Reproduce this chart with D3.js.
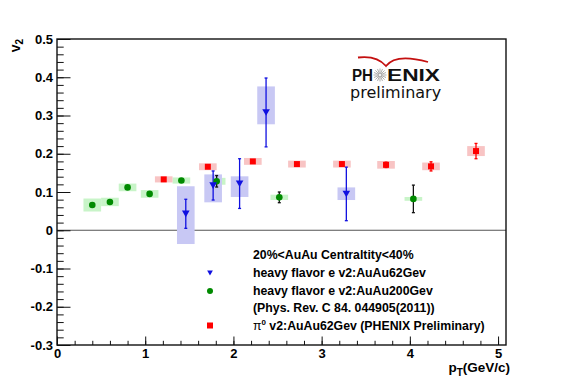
<!DOCTYPE html>
<html>
<head>
<meta charset="utf-8">
<script src="https://cdn.jsdelivr.net/npm/d3@7"></script>
<style>
  html, body { margin: 0; padding: 0; background: #fff; }
  svg { display: block; font-family: "Liberation Sans", Arial, Helvetica, sans-serif; }
</style>
</head>
<body>
<svg id="chart" width="567" height="383"></svg>
<script>
// ---------------- data ----------------
const xTicks = [0, 1, 2, 3, 4, 5];
const yTicks = [-0.3, -0.2, -0.1, 0, 0.1, 0.2, 0.3, 0.4, 0.5];
const yTickLabels = ["-0.3", "-0.2", "-0.1", "0", "0.1", "0.2", "0.3", "0.4", "0.5"];

// heavy flavor e v2 : AuAu 62 GeV (blue, triangles down)
const blueX = [1.46, 1.77, 2.07, 2.37, 3.28];
const blueY = [0.043, 0.117, 0.122, 0.308, 0.095];
const blueErr = [0.038, 0.038, 0.065, 0.090, 0.070];
const blueSysLo = [-0.036, 0.073, 0.087, 0.277, 0.079];
const blueSysHi = [0.115, 0.146, 0.141, 0.376, 0.112];

// heavy flavor e v2 : AuAu 200 GeV (green, circles)
const greenX = [0.40, 0.60, 0.80, 1.05, 1.41, 1.81, 2.52, 4.04];
const greenY = [0.066, 0.074, 0.112, 0.095, 0.130, 0.128, 0.086, 0.082];
const greenErr = [0.004, 0.004, 0.004, 0.004, 0.004, 0.015, 0.014, 0.036];
const greenSys = [0.017, 0.011, 0.010, 0.010, 0.008, 0.009, 0.007, 0.005];

// pi0 v2 : AuAu 62 GeV (red, squares)
const redX = [1.21, 1.71, 2.22, 2.72, 3.23, 3.73, 4.24, 4.75];
const redY = [0.133, 0.166, 0.180, 0.173, 0.173, 0.171, 0.167, 0.207];
const redErr = [0.003, 0.004, 0.004, 0.004, 0.005, 0.007, 0.012, 0.020];
const redSys = [0.008, 0.009, 0.009, 0.009, 0.009, 0.010, 0.010, 0.013];

const sysHalfWidth = 0.1;

const legendLines = [
  "20%<AuAu Centraltity<40%",
  "heavy flavor e v2:AuAu62Gev",
  "heavy flavor e v2:AuAu200Gev",
  "(Phys. Rev. C 84. 044905(2011))"
];

// ---------------- layout ----------------
const svg = d3.select("#chart");
svg.append("rect").attr("width", 567).attr("height", 383).attr("fill", "#fff");

const L = 57, R = 506, T = 39, B = 345;
const x = d3.scaleLinear().domain([0, 5.09]).range([L, R]);
const y = d3.scaleLinear().domain([-0.3, 0.5]).range([B, T]);

const colBlue = "#1010e0", colBlueBox = "#c8c8f4";
const colGreen = "#008a00", colGreenBox = "#c8f4c8";
const colRed = "#ff0000", colRedBox = "#f8c4c4";

// zero line
svg.append("line")
  .attr("x1", x(0)).attr("x2", R)
  .attr("y1", y(0)).attr("y2", y(0))
  .attr("stroke", "#555").attr("stroke-width", 1.2);

const plot = svg.append("g");

// systematic boxes
function boxes(xs, lo, hi, fill) {
  plot.append("g").selectAll("rect").data(xs).join("rect")
    .attr("x", d => x(d - sysHalfWidth))
    .attr("width", d => x(d + sysHalfWidth) - x(d - sysHalfWidth))
    .attr("y", (d, i) => y(hi[i]))
    .attr("height", (d, i) => y(lo[i]) - y(hi[i]))
    .attr("fill", fill);
}
boxes(greenX, greenY.map((v, i) => v - greenSys[i]), greenY.map((v, i) => v + greenSys[i]), colGreenBox);
boxes(redX, redY.map((v, i) => v - redSys[i]), redY.map((v, i) => v + redSys[i]), colRedBox);
boxes(blueX, blueSysLo, blueSysHi, colBlueBox);

// error bars
function errBars(xs, ys, es, color) {
  const g = plot.append("g").attr("stroke", color).attr("stroke-width", 1.3);
  xs.forEach((d, i) => {
    const px = x(d), y1 = y(ys[i] - es[i]), y2 = y(ys[i] + es[i]);
    g.append("line").attr("x1", px).attr("x2", px).attr("y1", y1).attr("y2", y2);
    g.append("line").attr("x1", px - 1.5).attr("x2", px + 1.5).attr("y1", y1).attr("y2", y1);
    g.append("line").attr("x1", px - 1.5).attr("x2", px + 1.5).attr("y1", y2).attr("y2", y2);
  });
}
errBars(greenX, greenY, greenErr, "#111");
errBars(redX, redY, redErr, colRed);
errBars(blueX, blueY, blueErr, colBlue);

// markers
const triDown = d3.symbol().type({
  draw(ctx, size) { ctx.moveTo(-3.8, -3.2); ctx.lineTo(3.8, -3.2); ctx.lineTo(0, 3.4); ctx.closePath(); }
})();
function circles(xs, ys) {
  plot.append("g").selectAll("circle").data(xs).join("circle")
    .attr("cx", d => x(d)).attr("cy", (d, i) => y(ys[i])).attr("r", 3.3).attr("fill", colGreen);
}
function squares(xs, ys) {
  plot.append("g").selectAll("rect").data(xs).join("rect")
    .attr("x", d => x(d) - 3).attr("y", (d, i) => y(ys[i]) - 3)
    .attr("width", 6).attr("height", 6).attr("fill", colRed);
}
function triangles(xs, ys) {
  plot.append("g").selectAll("path").data(xs).join("path")
    .attr("d", triDown)
    .attr("transform", (d, i) => `translate(${x(d)},${y(ys[i])})`)
    .attr("fill", colBlue);
}
circles(greenX, greenY);
squares(redX, redY);
triangles(blueX, blueY);

// ---------------- axes ----------------
const fontAxis = 13;
const yMinor = d3.range(-0.3, 0.5001, 0.02).map(v => +v.toFixed(3));
const xMinor = d3.range(0, 5.0001, 0.2).map(v => +v.toFixed(2));

const yAxisMinor = svg.append("g").attr("transform", `translate(${L},0)`)
  .call(d3.axisLeft(y).tickValues(yMinor).tickSize(-6.7).tickFormat(""));
yAxisMinor.select(".domain").remove();
const yAxis = svg.append("g").attr("transform", `translate(${L},0)`)
  .call(d3.axisLeft(y).tickValues(yTicks).tickSize(-13.5).tickPadding(4)
    .tickFormat((d, i) => yTickLabels[i]));
yAxis.select(".domain").remove();

const xAxisMinor = svg.append("g").attr("transform", `translate(0,${B})`)
  .call(d3.axisBottom(x).tickValues(xMinor).tickSize(-4.2).tickFormat(""));
xAxisMinor.select(".domain").remove();
const xAxis = svg.append("g").attr("transform", `translate(0,${B})`)
  .call(d3.axisBottom(x).tickValues(xTicks).tickSize(-8.5).tickPadding(4).tickFormat(d3.format("d")));
xAxis.select(".domain").remove();

svg.selectAll(".tick line").attr("stroke", "#111").attr("stroke-width", 1);
svg.selectAll(".tick text").attr("font-size", fontAxis).attr("font-weight", "bold")
  .attr("fill", "#000").style("font-family", "'Liberation Sans', Arial, sans-serif");

// frame
svg.append("rect").attr("x", L).attr("y", T).attr("width", R - L).attr("height", B - T)
  .attr("fill", "none").attr("stroke", "#111").attr("stroke-width", 1.4);

// axis titles
const yTitle = svg.append("text")
  .attr("transform", "translate(20,39) rotate(-90)")
  .attr("text-anchor", "end").attr("font-size", 14).attr("font-weight", "bold");
yTitle.append("tspan").text("v");
yTitle.append("tspan").attr("font-size", 10).attr("dy", 3).text("2");

const xTitle = svg.append("text")
  .attr("x", 510).attr("y", 372).attr("text-anchor", "end")
  .attr("font-size", 13.5).attr("font-weight", "bold");
xTitle.append("tspan").text("p");
xTitle.append("tspan").attr("font-size", 10).attr("dy", 4).text("T");
xTitle.append("tspan").attr("dy", -4).text("(GeV/c)");

// ---------------- legend ----------------
const legX = 253, legMarkX = 210;
const legY = [259, 277, 294.5, 312, 330];
const leg = svg.append("g").attr("font-size", 12.3).attr("font-weight", "bold").attr("fill", "#000");
legendLines.forEach((t, i) => {
  leg.append("text").attr("x", legX).attr("y", legY[i]).text(t);
});
const piText = leg.append("text").attr("x", legX).attr("y", legY[4]);
piText.append("tspan").attr("font-weight", "normal").text("\u03c0");
piText.append("tspan").attr("font-size", 8).attr("dy", -5).text("0");
piText.append("tspan").attr("dy", 5).text(" v2:AuAu62Gev (PHENIX Preliminary)");

svg.append("path").attr("d", triDown)
  .attr("transform", `translate(${legMarkX},${legY[1] - 4}) scale(0.75)`).attr("fill", colBlue);
svg.append("circle").attr("cx", legMarkX).attr("cy", legY[2] - 3.5).attr("r", 3).attr("fill", colGreen);
svg.append("rect").attr("x", legMarkX - 3).attr("y", legY[4] - 7.5).attr("width", 6).attr("height", 6).attr("fill", colRed);

// ---------------- PHENIX logo ----------------
const logo = svg.append("g");
logo.append("path")
  .attr("d", "M358,57.5 C370,56 380,59 386,66 C392,58 405,55.5 428,62")
  .attr("fill", "none").attr("stroke", "#c41010").attr("stroke-width", 1.8);
logo.append("text").attr("x", 352).attr("y", 81).attr("font-size", 16).attr("font-weight", "bold")
  .attr("textLength", 21).attr("lengthAdjust", "spacingAndGlyphs").attr("fill", "#111").text("PH");
logo.append("text").attr("x", 387).attr("y", 81).attr("font-size", 16).attr("font-weight", "bold")
  .attr("textLength", 53).attr("lengthAdjust", "spacingAndGlyphs").attr("fill", "#111").text("ENIX");
const starC = [380, 75];
d3.range(16).forEach(k => {
  const a = k * Math.PI / 8;
  logo.append("line")
    .attr("x1", starC[0] + 1.2 * Math.cos(a)).attr("y1", starC[1] + 1.2 * Math.sin(a))
    .attr("x2", starC[0] + 6.5 * Math.cos(a)).attr("y2", starC[1] + 6.5 * Math.sin(a))
    .attr("stroke", "#9a9a9a").attr("stroke-width", 0.8);
});
logo.append("text").attr("x", 350).attr("y", 97.5).attr("font-size", 16)
  .style("font-family", "'DejaVu Sans', sans-serif").attr("fill", "#111").text("preliminary");
</script>
</body>
</html>
